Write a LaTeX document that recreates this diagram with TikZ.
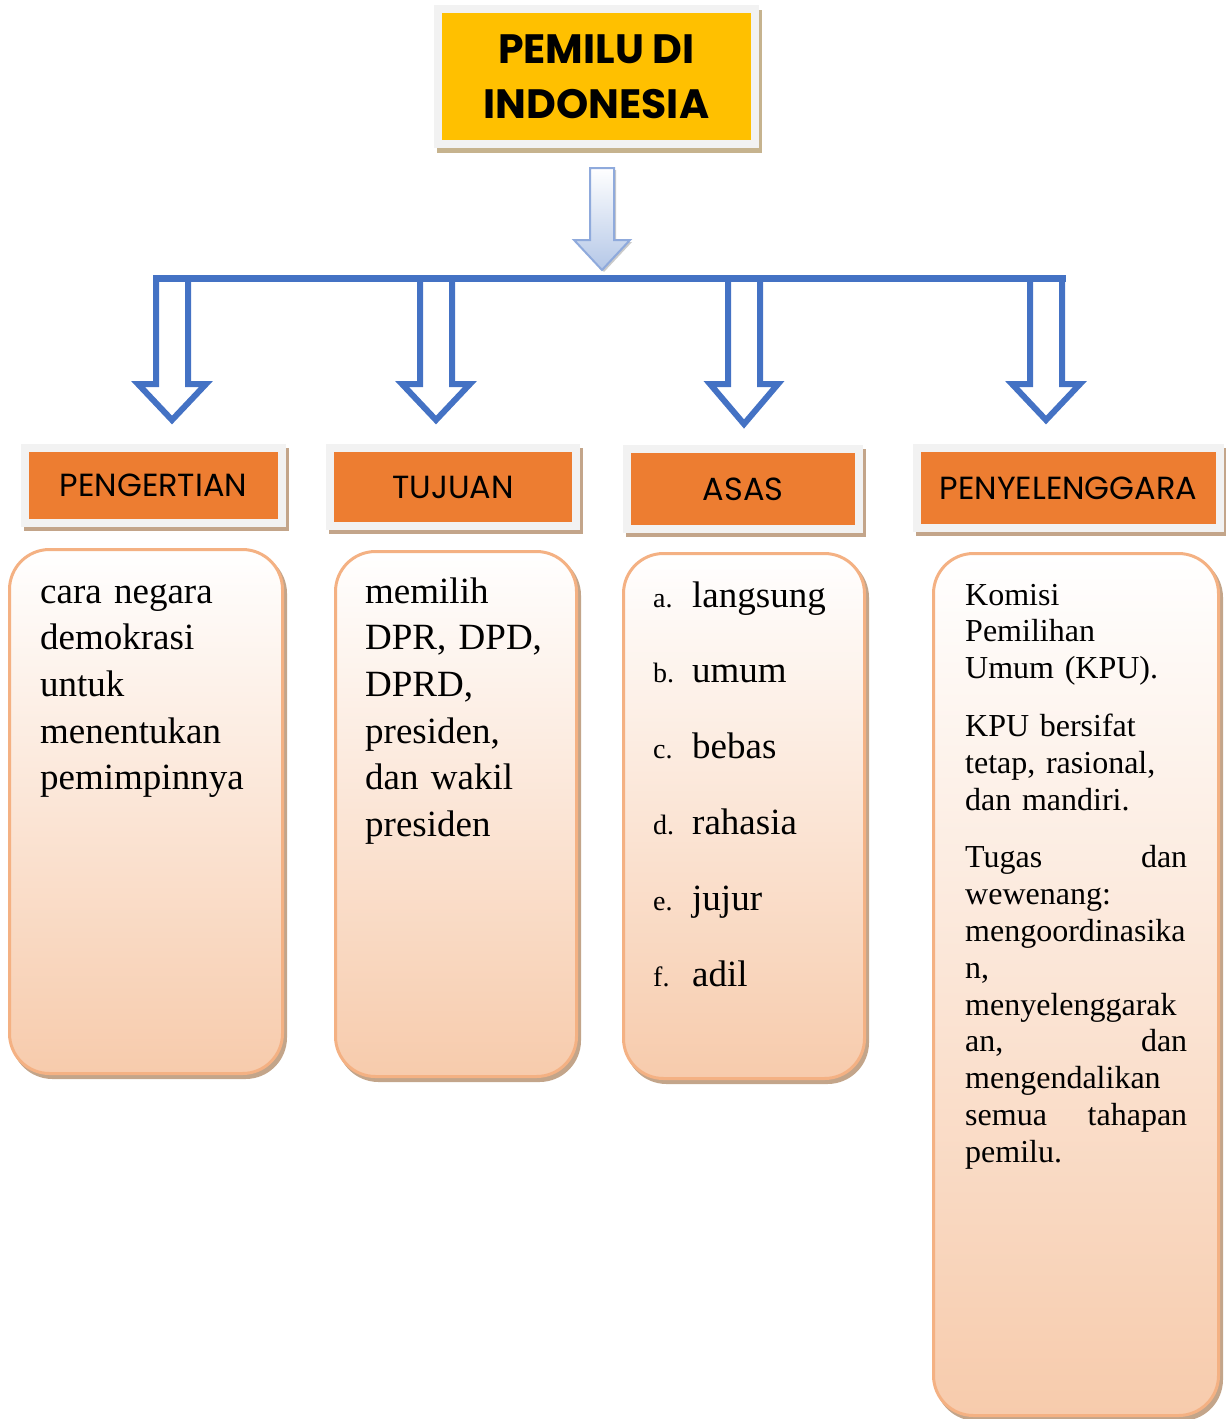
\documentclass[tikz,border=0pt]{standalone}
\usepackage{fontspec}
\setmainfont{Liberation Serif}
\newfontfamily\hurufjudul{Poppins}
\usetikzlibrary{positioning, shadows, calc}
\definecolor{kuning}{HTML}{FFC000}
\definecolor{oranye}{HTML}{ED7D31}
\definecolor{bingkai}{HTML}{F2F2F2}
\definecolor{bayang}{HTML}{C3A58A}
\definecolor{bayangkuning}{HTML}{C6B38E}
\definecolor{biru}{HTML}{4472C4}
\definecolor{birumuda}{HTML}{B4C7E7}
\definecolor{birutepi}{HTML}{8FAADC}
\definecolor{persik}{HTML}{F7CBAC}
\definecolor{persiktepi}{HTML}{F4B183}
\newcommand{\rata}[2]{\leavevmode\makebox[222pt][l]{#1\hfill #2}}
\tikzset{
  judul/.style={fill=kuning, draw=bingkai, line width=8pt, minimum width=317pt, minimum height=135pt,
    align=center, font=\hurufjudul\bfseries\fontsize{41}{55}\selectfont,
    drop shadow={fill=bayangkuning, draw=bayangkuning, line width=8pt, opacity=1, shadow xshift=3pt, shadow yshift=-5pt}},
  kepala/.style={fill=oranye, draw=bingkai, line width=8pt, inner sep=0pt,
    font=\hurufjudul\fontsize{32}{34}\selectfont,
    drop shadow={fill=bayang, draw=bayang, line width=8pt, opacity=1, shadow xshift=3pt, shadow yshift=-4pt}},
  kotak/.style={draw=persiktepi, line width=3pt, rounded corners=40pt, top color=white, bottom color=persik,
    drop shadow={fill=bayang, draw=bayang, line width=3pt, opacity=1, shadow xshift=3pt, shadow yshift=-4pt}},
  isi/.style={anchor=base west, inner sep=0pt, align=left, font=\fontsize{37}{46.7}\selectfont},
  panah/.style={draw=biru, line width=6pt, line join=miter},
  batang/.style={draw=biru, line width=7pt, line cap=rect},
}

\begin{document}
\begin{tikzpicture}[x=1pt, y=-1pt]
  \useasboundingbox (0,0) rectangle (1226,1419);
  % judul
  \node[judul] (judul) at (596.5,76.5) {PEMILU DI\\INDONESIA};
  \draw[draw=birutepi, line width=2pt, top color=white, bottom color=birumuda,
    drop shadow={fill=gray!70, opacity=.6, shadow xshift=2pt, shadow yshift=-2pt}]
    (590,168) -- (590,240) -- (574,240) -- (602,270) -- (630,240) -- (614,240) -- (614,168) -- cycle;
  % cabang
  \foreach \cx/\ty in {172/420, 436/420, 744/424, 1046/420}
    \draw[panah] (\cx-16,278) -- (\cx-16,384) -- (\cx-34,384) -- (\cx,\ty) -- (\cx+34,384) -- (\cx+16,384) -- (\cx+16,278);
  \draw[batang] (156,278.5) -- (1062,278.5);
  % kepala
  \node[kepala, minimum width=257pt, minimum height=75pt] (pengertian) at (153.5,485.5) {PENGERTIAN};
  \node[kepala, minimum width=246pt, minimum height=78pt] (tujuan) at (453,487) {TUJUAN};
  \node[kepala, minimum width=232pt, minimum height=80pt] (asas) at (743,489) {ASAS};
  \node[kepala, minimum width=303pt, minimum height=80pt] (penyelenggara) at (1068.5,488) {PENYELENGGARA};
  % kotak isi
  \node[kotak, minimum width=273pt, minimum height=524pt] (b1) at (146,811.5) {};
  \node[kotak, minimum width=241pt, minimum height=525pt] (b2) at (456,814) {};
  \node[kotak, minimum width=241pt, minimum height=525pt] (b3) at (744,816) {};
  \node[kotak, minimum width=285pt, minimum height=862pt] (b4) at (1076,984.5) {};
  \node[isi, text width=240pt] (t1) at (40,603) {cara negara\\demokrasi\\untuk\\menentukan\\pemimpinnya};
  \node[isi, text width=200pt] (t2) at (365,603) {memilih\\DPR, DPD,\\DPRD,\\presiden,\\dan wakil\\presiden};
  \foreach \hrf/\kata [count=\i from 0] in {a/langsung, b/umum, c/bebas, d/rahasia, e/jujur, f/adil}{
    \node[isi, font=\fontsize{28}{30}\selectfont] (l\hrf) at (653,607+75.8*\i) {\hrf.};
    \node[isi] (k\hrf) at (692,607+75.8*\i) {\kata};
  }
  \node[isi, text width=230pt, font=\fontsize{32}{36.8}\selectfont] (t4) at (965,605)
    {Komisi\\Pemilihan\\Umum (KPU).\\[21pt]KPU bersifat\\tetap, rasional,\\dan mandiri.\\[21pt]\rata{Tugas}{dan}\\wewenang:\\mengoordinasika\\n,\\menyelenggarak\\\rata{an,}{dan}\\mengendalikan\\\rata{semua}{tahapan}\\pemilu.};
\end{tikzpicture}
\end{document}
